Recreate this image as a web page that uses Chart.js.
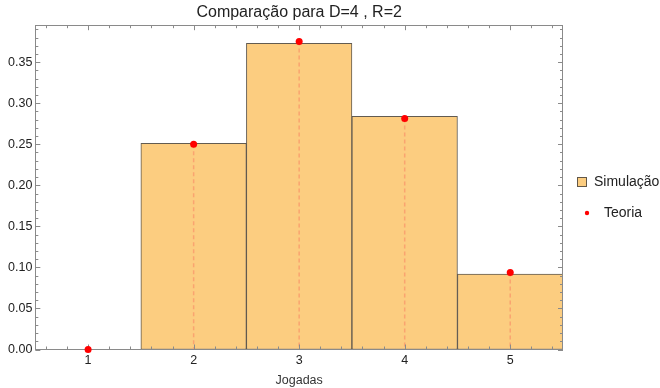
<!DOCTYPE html>
<html>
<head>
<meta charset="utf-8">
<script src="https://cdn.jsdelivr.net/npm/chart.js@4/dist/chart.umd.min.js"></script>
<style>
  html, body { margin: 0; padding: 0; background: #fff; }
  #wrap { width: 660px; height: 388px; }
</style>
</head>
<body>
<div id="wrap"><canvas id="myChart"></canvas></div>
<script>
// jogadas (categories) and the two series
const jogadas = ['1', '2', '3', '4', '5'];
const simulacao = [0, 0.251, 0.373, 0.284, 0.092];
const teoria = [0, 0.25, 0.375, 0.28125, 0.09375];
const yTicks = [0, 0.05, 0.10, 0.15, 0.20, 0.25, 0.30, 0.35];

const barColor = 'rgb(252,205,128)';
const barEdge = 'rgba(70,62,50,0.85)';
const dotColor = '#ff0000';
const dropColor = 'rgba(250,160,110,0.9)';
const frameColor = '#8a8a8a';
const FONT = '"Liberation Sans", Arial, sans-serif';

Chart.defaults.font.family = FONT;
Chart.defaults.color = '#222';

// frame, inward ticks and drop lines, drawn on top of the bars but under the points
const framePlugin = {
  id: 'frame',
  afterDatasetDraw(chart, args) {
    if (args.index !== 0) return;
    const { ctx, chartArea: a } = chart;
    const xs = chart.scales.x, ys = chart.scales.y;

    // dashed drop lines from each teoria point
    const pts = chart.getDatasetMeta(1).data;
    ctx.save();
    ctx.strokeStyle = dropColor;
    ctx.lineWidth = 1.5;
    ctx.setLineDash([4, 3]);
    pts.forEach(p => {
      ctx.beginPath();
      ctx.moveTo(p.x, p.y);
      ctx.lineTo(p.x, a.bottom);
      ctx.stroke();
    });
    ctx.restore();

    ctx.save();
    ctx.strokeStyle = frameColor;
    ctx.lineWidth = 1;
    ctx.strokeRect(Math.round(a.left) + 0.5, Math.round(a.top) + 0.5,
      Math.round(a.right - a.left) - 1, Math.round(a.bottom - a.top));

    ctx.beginPath();
    // y ticks, every 0.01, major every 0.05
    for (let i = 0; i <= 39; i++) {
      const y = Math.round(ys.getPixelForValue(i / 100)) + 0.5;
      if (y < a.top) break;
      const len = i % 5 === 0 ? 5 : 3;
      ctx.moveTo(a.left, y); ctx.lineTo(a.left + len, y);
      ctx.moveTo(a.right, y); ctx.lineTo(a.right - len, y);
    }
    // x ticks, every 0.2, major on integers
    for (let i = 3; i <= 27; i++) {
      const v = i / 5 - 1; // category index space
      const x = Math.round(xs.getPixelForValue(v)) + 0.5;
      const len = i % 5 === 0 ? 5 : 3;
      ctx.moveTo(x, a.bottom); ctx.lineTo(x, a.bottom - len);
      ctx.moveTo(x, a.top); ctx.lineTo(x, a.top + len);
    }
    ctx.stroke();
    ctx.restore();
  }
};

// legend on the right, Mathematica style
const legendPlugin = {
  id: 'sideLegend',
  afterDraw(chart) {
    const { ctx, chartArea: a } = chart;
    const x0 = a.right + 14;
    const y0 = Math.round((a.top + a.bottom) / 2 - 5);
    ctx.save();
    ctx.font = '14px ' + FONT;
    ctx.textBaseline = 'middle';

    ctx.fillStyle = barColor;
    ctx.fillRect(x0 + 0.5, y0 - 4.5, 9, 9);
    ctx.strokeStyle = barEdge;
    ctx.lineWidth = 1;
    ctx.strokeRect(x0 + 0.5, y0 - 4.5, 9, 9);
    ctx.fillStyle = '#222';
    ctx.fillText('Simulação', x0 + 17, y0);

    ctx.fillStyle = dotColor;
    ctx.beginPath();
    ctx.arc(x0 + 10, y0 + 31, 2.2, 0, Math.PI * 2);
    ctx.fill();
    ctx.fillStyle = '#222';
    ctx.fillText('Teoria', x0 + 27, y0 + 31);
    ctx.restore();
  }
};

const ctx = document.getElementById('myChart');

new Chart(ctx, {
  data: {
    labels: jogadas,
    datasets: [{
      type: 'bar',
      label: 'Simulação',
      data: simulacao,
      backgroundColor: barColor,
      borderColor: barEdge,
      borderWidth: 1,
      borderSkipped: false,
      barPercentage: 1,
      categoryPercentage: 1,
      order: 1
    }, {
      type: 'line',
      label: 'Teoria',
      data: teoria,
      showLine: false,
      pointRadius: 3.5,
      pointBackgroundColor: dotColor,
      pointBorderWidth: 0,
      clip: false,
      order: 0
    }]
  },
  options: {
    responsive: true,
    maintainAspectRatio: false,
    animation: false,
    events: [],
    layout: { padding: { left: 5, right: 97, top: 0, bottom: 0 } },
    plugins: {
      legend: { display: false },
      tooltip: { enabled: false },
      title: {
        display: true,
        fullSize: false,
        text: 'Comparação para D=4 , R=2',
        color: '#222',
        font: { size: 16, weight: 'normal', lineHeight: 1.2 },
        padding: { top: 3, bottom: 3 }
      }
    },
    scales: {
      x: {
        type: 'category',
        offset: true,
        grid: { display: false, drawTicks: false },
        border: { display: false },
        ticks: { padding: 5, font: { size: 12.5, lineHeight: 1 }, color: '#222' },
        title: {
          display: true,
          text: 'Jogadas',
          color: '#333',
          font: { size: 12.5, lineHeight: 1.2 },
          padding: { top: 1, bottom: 0 }
        }
      },
      y: {
        type: 'linear',
        min: 0,
        max: 0.395,
        grid: { display: false, drawTicks: false },
        border: { display: false },
        afterBuildTicks(scale) {
          scale.ticks = yTicks.map(v => ({ value: v }));
        },
        ticks: {
          padding: 3,
          font: { size: 12.5 },
          color: '#222',
          callback: v => v.toFixed(2)
        }
      }
    }
  },
  plugins: [framePlugin, legendPlugin]
});
</script>
</body>
</html>
